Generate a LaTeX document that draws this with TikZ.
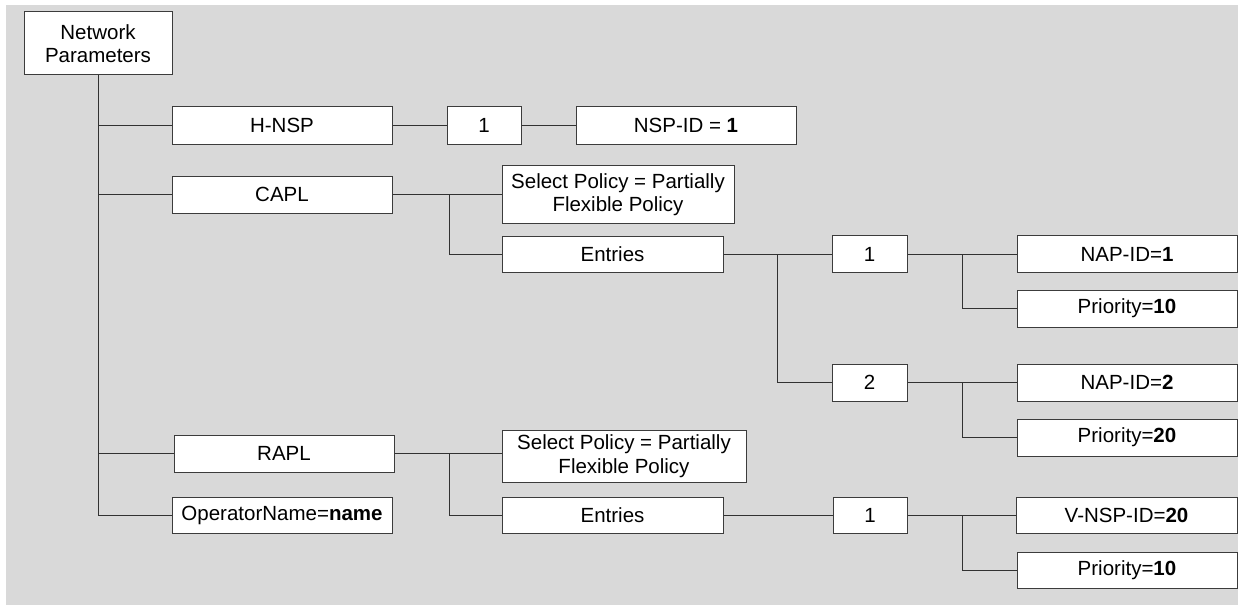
\documentclass[tikz,border=0pt]{standalone}
\usepackage{fontspec}
\setmainfont{Liberation Sans}
\definecolor{bggray}{RGB}{217,217,217}
\definecolor{boxline}{RGB}{60,60,60}
\definecolor{connline}{RGB}{50,50,50}
\begin{document}
\begin{tikzpicture}[x=1pt,y=-1pt,
  box/.style={draw=boxline, line width=1pt, fill=white, inner sep=0pt, align=center,
    font=\fontsize{20.5}{23.5}\selectfont, text=black},
  conn/.style={draw=connline, line width=1pt}]
\useasboundingbox (0,0) rectangle (1238,607);
\fill[bggray] (6,5) rectangle (1238,605);
% nodes
\node[box, minimum width=148pt, minimum height=63pt] (np) at (98,43.5) {Network\\Parameters};
\node[box, minimum width=220pt, minimum height=37pt] (hnsp) at (282,125.5) {H-NSP};
\node[box, minimum width=74pt, minimum height=37pt] (h1) at (484,125.5) {1};
\node[box, minimum width=220pt, minimum height=37pt] (nspid) at (686,125.5) {NSP-ID = \textbf{1}};
\node[box, minimum width=220pt, minimum height=37pt] (capl) at (282,194.5) {CAPL};
\node[box, minimum width=232pt, minimum height=58pt] (sp1) at (618,194.5) {Select Policy = Partially\\Flexible Policy};
\node[box, minimum width=221pt, minimum height=36pt] (ent1) at (612.5,254) {Entries};
\node[box, minimum width=75pt, minimum height=37pt] (c1) at (869.5,254) {1};
\node[box, minimum width=220pt, minimum height=37pt] (nap1) at (1127,254) {NAP-ID=\textbf{1}};
\node[box, minimum width=220pt, minimum height=37pt] (pr1) at (1127,308.5) {Priority=\textbf{10}};
\node[box, minimum width=75pt, minimum height=37pt] (c2) at (869.5,382.5) {2};
\node[box, minimum width=220pt, minimum height=37pt] (nap2) at (1127,382.5) {NAP-ID=\textbf{2}};
\node[box, minimum width=220pt, minimum height=37pt] (pr2) at (1127,437.5) {Priority=\textbf{20}};
\node[box, minimum width=220pt, minimum height=37pt] (rapl) at (284,453.5) {RAPL};
\node[box, minimum width=220pt, minimum height=36pt] (opname) at (282,515) {OperatorName=\textbf{name}};
\node[box, minimum width=244pt, minimum height=52pt] (sp2) at (624,456) {Select Policy = Partially\\Flexible Policy};
\node[box, minimum width=221pt, minimum height=36pt] (ent2) at (612.5,515) {Entries};
\node[box, minimum width=74pt, minimum height=36pt] (c3) at (870,515) {1};
\node[box, minimum width=221pt, minimum height=36pt] (vnsp) at (1126.5,515) {V-NSP-ID=\textbf{20}};
\node[box, minimum width=220pt, minimum height=36pt] (pr3) at (1127,570) {Priority=\textbf{10}};
% branch points
\coordinate (cb) at (449,194.5);
\coordinate (eb) at (777,254);
\coordinate (b1) at (962,254);
\coordinate (b2) at (962,382.5);
\coordinate (rb) at (449,453.5);
\coordinate (b3) at (962,515);
% connectors
\draw[conn] (np.south) |- (hnsp.west);
\draw[conn] (np.south) |- (capl.west);
\draw[conn] (np.south) |- (rapl.west);
\draw[conn] (np.south) |- (opname.west);
\draw[conn] (hnsp.east) -- (h1.west);
\draw[conn] (h1.east) -- (nspid.west);
\draw[conn] (capl.east) -- (sp1.west);
\draw[conn] (cb) |- (ent1.west);
\draw[conn] (ent1.east) -- (c1.west);
\draw[conn] (eb) |- (c2.west);
\draw[conn] (c1.east) -- (nap1.west);
\draw[conn] (b1) |- (pr1.west);
\draw[conn] (c2.east) -- (nap2.west);
\draw[conn] (b2) |- (pr2.west);
\draw[conn] (rapl.east) -- (rapl.east -| sp2.west);
\draw[conn] (rb) |- (ent2.west);
\draw[conn] (ent2.east) -- (c3.west);
\draw[conn] (c3.east) -- (vnsp.west);
\draw[conn] (b3) |- (pr3.west);
\end{tikzpicture}
\end{document}
